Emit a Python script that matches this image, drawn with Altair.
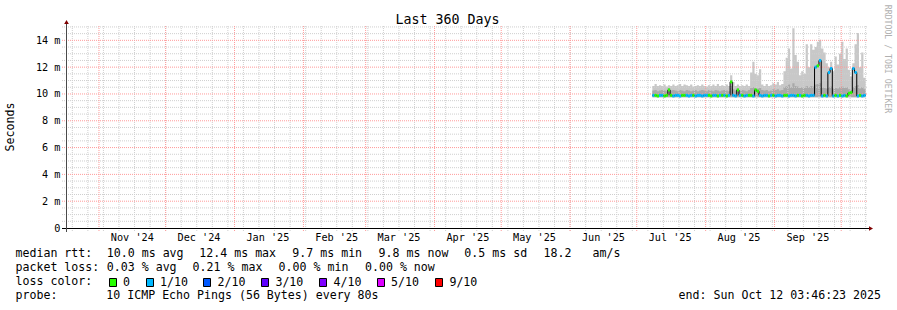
import altair as alt
import pandas as pd

# ---------------- data ----------------
first_day = "2025-07-08"          # first daily sample with data

median_ms = [
    9.9, 9.9, 9.85, 9.9, 9.9, 9.85, 9.9, 10.3, 9.9, 9.85,
    9.9, 9.9, 9.85, 9.9, 9.9, 9.9, 9.85, 9.9, 9.9, 9.85,
    9.9, 9.9, 9.85, 9.9, 9.9, 9.9, 9.85, 9.9, 9.9, 9.85,
    9.9, 9.9, 9.9, 9.85, 9.9, 10.9, 9.9, 9.85, 10.3, 9.9,
    9.9, 9.85, 9.9, 9.9, 9.9, 9.85, 10.3, 10.2, 9.9, 9.85,
    9.9, 9.9, 9.85, 9.9, 9.9, 9.85, 9.9, 9.9, 9.85, 9.9,
    9.9, 9.85, 9.9, 9.9, 9.85, 9.9, 9.9, 9.85, 9.9, 9.9,
    9.85, 9.9, 9.9, 12.0, 12.1, 12.5, 9.85, 9.9, 9.85, 11.6,
    11.9, 9.85, 9.9, 9.85, 9.9, 9.85, 9.9, 9.85, 10.05, 10.1,
    11.9, 11.6, 9.85, 9.9, 9.85, 9.9,
]

loss_bucket = [
    "1/10", "0", "0", "1/10", "1/10", "0", "0", "0", "0", "1/10",
    "1/10", "1/10", "1/10", "0", "0", "1/10", "1/10", "1/10", "0", "1/10",
    "1/10", "1/10", "1/10", "1/10", "1/10", "0", "0", "1/10", "1/10", "0",
    "1/10", "0", "1/10", "0", "1/10", "0", "1/10", "1/10", "0", "1/10",
    "0", "1/10", "1/10", "0", "0", "1/10", "0", "0", "1/10", "1/10",
    "1/10", "1/10", "0", "1/10", "0", "1/10", "1/10", "1/10", "1/10", "0",
    "0", "1/10", "1/10", "1/10", "1/10", "0", "1/10", "0", "0", "1/10",
    "1/10", "1/10", "1/10", "1/10", "0", "1/10", "1/10", "0", "1/10", "1/10",
    "1/10", "1/10", "0", "1/10", "0", "1/10", "1/10", "0", "0", "0",
    "1/10", "1/10", "1/10", "0", "1/10", "1/10",
]

smoke_lo = [
    9.75, 9.75, 9.75, 9.75, 9.75, 9.75, 9.75, 9.75, 9.75, 9.75,
    9.75, 9.75, 9.75, 9.75, 9.75, 9.75, 9.75, 9.75, 9.75, 9.75,
    9.75, 9.75, 9.75, 9.75, 9.75, 9.75, 9.75, 9.75, 9.75, 9.75,
    9.75, 9.75, 9.75, 9.75, 9.75, 9.75, 9.75, 9.75, 9.75, 9.75,
    9.75, 9.75, 9.75, 9.75, 9.75, 9.75, 9.75, 9.75, 9.75, 9.75,
    9.75, 9.75, 9.75, 9.75, 9.75, 9.75, 9.75, 9.75, 9.75, 9.75,
    9.75, 9.75, 9.75, 9.75, 9.75, 9.75, 9.75, 9.75, 9.75, 9.75,
    9.75, 9.75, 9.75, 9.75, 9.75, 9.75, 9.75, 9.75, 9.75, 9.75,
    9.75, 9.75, 9.75, 9.75, 9.75, 9.75, 9.75, 9.75, 9.75, 9.75,
    9.75, 9.75, 9.75, 9.75, 9.75, 9.75,
]

smoke_mid = [
    10.25, 10.3, 10.2, 10.25, 10.3, 10.25, 10.2, 10.45, 10.25, 10.3,
    10.25, 10.2, 10.3, 10.25, 10.2, 10.3, 10.25, 10.2, 10.25, 10.3,
    10.2, 10.25, 10.3, 10.25, 10.2, 10.3, 10.25, 10.2, 10.3, 10.25,
    10.2, 10.25, 10.3, 10.25, 10.2, 10.6, 10.35, 10.25, 10.4, 10.25,
    10.3, 10.25, 10.2, 10.3, 10.45, 10.5, 10.45, 10.4, 10.45, 10.3,
    10.25, 10.3, 10.2, 10.25, 10.35, 10.3, 10.35, 10.25, 10.3, 10.5,
    10.6, 10.7, 10.5, 10.8, 10.6, 10.55, 10.45, 10.5, 10.45, 10.6,
    10.5, 10.6, 10.55, 10.7, 10.75, 10.8, 10.5, 10.45, 10.4, 10.5,
    10.55, 10.4, 10.45, 10.4, 10.5, 10.55, 10.45, 10.5, 10.35, 10.3,
    10.5, 10.6, 10.65, 10.4, 10.5, 10.35,
]

smoke_hi = [
    10.6, 10.75, 10.6, 10.65, 10.6, 10.7, 10.55, 10.65, 10.6, 10.7,
    10.6, 10.65, 10.75, 10.6, 10.7, 10.65, 10.6, 10.7, 10.55, 10.6,
    10.65, 10.6, 10.7, 10.6, 10.55, 10.65, 10.6, 10.7, 10.6, 10.75,
    10.6, 10.65, 10.6, 10.7, 10.6, 11.4, 10.9, 10.6, 10.7, 10.6,
    10.65, 10.6, 10.7, 10.6, 11.6, 12.4, 11.5, 11.4, 11.85, 10.7,
    10.6, 10.75, 10.6, 10.65, 10.8, 10.7, 10.9, 10.65, 10.75, 11.7,
    12.7, 13.4, 11.9, 14.9, 12.9, 12.4, 11.4, 11.7, 11.5, 13.7,
    12.0, 13.7, 13.3, 13.5, 13.9, 14.05, 13.4, 13.1, 12.3, 12.0,
    12.4, 11.7, 12.8, 12.2, 13.0, 13.9, 12.6, 13.4, 11.8, 11.3,
    12.3, 13.7, 14.55, 12.0, 13.1, 11.2,
]

loss_labels = ["0", "1/10", "2/10", "3/10", "4/10", "5/10", "9/10"]
loss_colors = ["#26ff00", "#00b8ff", "#0059ff", "#5e00ff", "#7e00ff", "#dd00ff", "#ff0000"]

x_label_dates = ["2024-11-16", "2024-12-16", "2025-01-16", "2025-02-16", "2025-03-16",
                 "2025-04-16", "2025-05-16", "2025-06-16", "2025-07-16", "2025-08-16",
                 "2025-09-16"]
x_label_texts = ["Nov '24", "Dec '24", "Jan '25", "Feb '25", "Mar '25", "Apr '25",
                 "May '25", "Jun '25", "Jul '25", "Aug '25", "Sep '25"]

y_label_values = [0, 2, 4, 6, 8, 10, 12, 14]
y_minor_values = [0.5, 1, 1.5, 2.5, 3, 3.5, 4.5, 5, 5.5, 6.5, 7, 7.5, 8.5, 9, 9.5,
                  10.5, 11, 11.5, 12.5, 13, 13.5, 14.5, 15]
y_major_values = [2, 4, 6, 8, 10, 12, 14]

# ---------------- frames ----------------
FMT = "%Y-%m-%dT%H:%M:%S"
t = pd.date_range(first_day, periods=len(median_ms), freq="D")
df = pd.DataFrame({
    "t": t.strftime(FMT),
    "t_end": (t + pd.Timedelta(days=1)).strftime(FMT),
    "median": median_ms,
    "loss": loss_bucket,
    "lo": smoke_lo,
    "mid": smoke_mid,
    "hi": smoke_hi,
})
# closing row so the last step of step-after marks has its width
last = df.iloc[[-1]].copy()
last["t"] = last["t_end"]
df_step = pd.concat([df, last], ignore_index=True)

weeks = pd.DataFrame({"w": pd.date_range("2024-10-20", "2025-10-12", freq="7D").strftime(FMT)})
months = pd.DataFrame({"m": pd.date_range("2024-11-01", "2025-10-01", freq="MS").strftime(FMT)})
xlab = pd.DataFrame({"d": [d + "T00:00:00" for d in x_label_dates], "txt": x_label_texts})
ymin = pd.DataFrame({"v": y_minor_values})
ymaj = pd.DataFrame({"v": y_major_values})
one = pd.DataFrame({"k": [0]})

# ---------------- layout / styles ----------------
FONT = "DejaVu Sans Mono"
W, H = 800, 202
X0, Y0 = 66, 26
GRID = "#cfcfcf"
MGRID = "#ff9a9a"

x_scale = alt.Scale(domain=[alt.DateTime(year=2024, month=10, date=17, hours=3, minutes=46, seconds=23),
                            alt.DateTime(year=2025, month=10, date=12, hours=3, minutes=46, seconds=23)])
y_scale = alt.Scale(domain=[0, 15.07], nice=False, zero=False)
y_axis = alt.Axis(values=y_label_values,
                  labelExpr="datum.value == 0 ? '0\u00a0\u00a0' : datum.value + ' m'",
                  ticks=False, tickSize=0, domain=False, grid=False, labelPadding=6,
                  labelFont=FONT, labelFontSize=10.2, labelColor="#000000",
                  labelFlush=False, labelOverlap=False, title=None)


def X(field):
    return alt.X(field, scale=x_scale, axis=None)


def Y(field):
    return alt.Y(field, scale=y_scale, axis=y_axis)


smoke_light = alt.Chart(df_step).mark_area(interpolate="step-after", color="#c8c8c8").encode(
    x=X("t:T"), y=Y("lo:Q"), y2="hi:Q")
smoke_dark = alt.Chart(df_step).mark_area(interpolate="step-after", color="#a9a9a9").encode(
    x=X("t:T"), y=Y("lo:Q"), y2="mid:Q")

grid_h_minor = alt.Chart(ymin).mark_rule(color=GRID, strokeDash=[1, 1], strokeWidth=1).encode(
    y=Y("v:Q"), x=alt.value(-4), x2=alt.value(W + 2))
grid_h_major = alt.Chart(ymaj).mark_rule(color=MGRID, strokeDash=[1, 1], strokeWidth=1).encode(
    y=Y("v:Q"), x=alt.value(-4), x2=alt.value(W + 2))
grid_v_minor = alt.Chart(weeks).mark_rule(color=GRID, strokeDash=[1, 1], strokeWidth=1).encode(
    x=X("w:T"), y=alt.value(0), y2=alt.value(H + 4))
grid_v_major = alt.Chart(months).mark_rule(color=MGRID, strokeDash=[1, 1], strokeWidth=1).encode(
    x=X("m:T"), y=alt.value(0), y2=alt.value(H + 4))

median_black = alt.Chart(df_step).mark_line(interpolate="step-after", color="#000000", strokeWidth=1).encode(
    x=X("t:T"), y=Y("median:Q"))
median_color = alt.Chart(df).mark_rule(strokeWidth=3).encode(
    x=X("t:T"), x2="t_end:T", y=Y("median:Q"),
    color=alt.Color("loss:N", scale=alt.Scale(domain=loss_labels, range=loss_colors), legend=None))

x_labels = alt.Chart(xlab).mark_text(font=FONT, fontSize=10.2, color="#000000", baseline="middle",
                                     align="center").encode(
    x=X("d:T"), y=alt.value(H + 9.5), text="txt:N")

x_axis_line = alt.Chart(one).mark_rule(color="#000000", strokeWidth=1).encode(
    x=alt.value(-4), x2=alt.value(W + 3), y=alt.value(H + 0.5))
y_axis_line = alt.Chart(one).mark_rule(color="#4a4a4a", strokeWidth=1).encode(
    x=alt.value(0.5), y=alt.value(-3), y2=alt.value(H + 4))
x_arrow = alt.Chart(one).mark_point(shape="triangle-right", filled=True, color="#7f0000", size=22, opacity=1).encode(
    x=alt.value(W + 5), y=alt.value(H + 0.5))
y_arrow = alt.Chart(one).mark_point(shape="triangle-up", filled=True, color="#7f0000", size=22, opacity=1).encode(
    x=alt.value(0.5), y=alt.value(-4))


def txt(s, px, py, size=11.6, align="left", angle=0, color="#000000"):
    return alt.Chart(one).mark_text(text=s, font=FONT, fontSize=size, align=align, baseline="middle",
                                    angle=angle, color=color).encode(
        x=alt.value(px - X0), y=alt.value(py - Y0))


def box(c, px, py):
    return alt.Chart(one).mark_rect(fill=c, stroke="#000000", strokeWidth=1).encode(
        x=alt.value(px - X0), x2=alt.value(px - X0 + 7), y=alt.value(py - Y0), y2=alt.value(py - Y0 + 8))


texts = [
    txt("Last 360 Days", 447.5, 20, size=13.3, align="center"),
    txt("Seconds", 11, 127, size=11.6, align="center", angle=270),
    txt("RRDTOOL / TOBI OETIKER", 887, 59, size=8.2, align="center", angle=90, color="#b0b0b0"),
    txt("median rtt:", 15.5, 254.3),
    txt("10.0 ms avg", 106.8, 254.3),
    txt("12.4 ms max", 199.3, 254.3),
    txt("9.7 ms min", 292.3, 254.3),
    txt("9.8 ms now", 378.6, 254.3),
    txt("0.5 ms sd", 464.3, 254.3),
    txt("18.2", 543.5, 254.3),
    txt("am/s", 592.6, 254.3),
    txt("packet loss:", 15.5, 268.3),
    txt("0.03 % avg", 106.8, 268.3),
    txt("0.21 % max", 192.6, 268.3),
    txt("0.00 % min", 278.6, 268.3),
    txt("0.00 % now", 365.0, 268.3),
    txt("loss color:", 15.5, 282.3),
    txt("probe:", 15.5, 296.2),
    txt("10 ICMP Echo Pings (56 Bytes) every 80s", 106.3, 296.2),
    txt("end: Sun Oct 12 03:46:23 2025", 881, 296.2, align="right"),
]
box_left = [109.5, 146.5, 203.5, 261.5, 319.5, 377.5, 435.5]
label_left = [123.0, 160.0, 217.6, 275.4, 333.6, 391.0, 449.4]
for c, bx, lx, lab in zip(loss_colors, box_left, label_left, loss_labels):
    texts.append(box(c, bx, 278.5))
    texts.append(txt(lab, lx, 282.5))

chart = alt.layer(
    smoke_light, smoke_dark,
    grid_h_minor, grid_v_minor, grid_h_major, grid_v_major,
    median_black, median_color,
    x_labels, x_axis_line, y_axis_line, x_arrow, y_arrow,
    *texts,
).properties(
    width=W, height=H,
    padding={"left": X0, "top": Y0, "right": 897 - X0 - W, "bottom": 310 - Y0 - H},
    autosize=alt.AutoSizeParams(type="none"),
    background="#ffffff",
).configure_view(stroke=None)

chart.save("out.html", embed_options={"renderer": "svg", "actions": False})
